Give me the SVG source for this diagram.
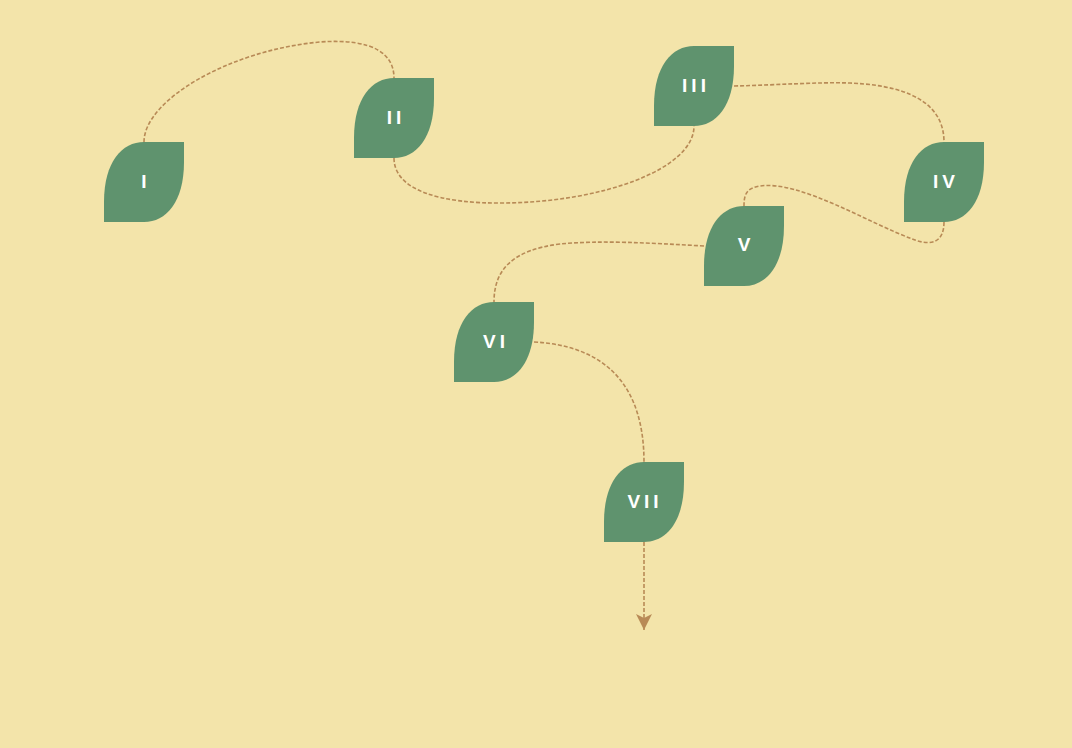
<svg xmlns="http://www.w3.org/2000/svg" width="1072" height="748" viewBox="0 0 1072 748">
<defs>
<style>
.leaf{fill:#5f936e}
.lbl{fill:#ffffff;font-family:"Liberation Sans",Arial,sans-serif;font-weight:bold;font-size:19px;text-anchor:middle;letter-spacing:4px}
.edge{fill:none;stroke:#b88a56;stroke-width:1.6;stroke-dasharray:4 2}
</style>
<path id="leafShape" d="M0,80 L0,60 C0,20 18,0 40,0 L80,0 L80,20 C80,60 62,80 40,80 Z"/>
<marker id="arr" viewBox="0 0 16 16" refX="16" refY="8" markerWidth="16" markerHeight="16" markerUnits="userSpaceOnUse" orient="auto">
<path d="M0,0 L16,8 L0,16 L4,8 Z" fill="#b88a56"/>
</marker>
</defs>
<rect width="1072" height="748" fill="#f3e4aa"/>
<g id="connectors">
<path class="edge" d="M144,142 C144,100 230,50 320,42 C375,38 394,55 394,78"/>
<path class="edge" d="M394,158 C394,190 440,204 505,203 C600,202 694,170 694,126"/>
<path class="edge" d="M734,86 C780,85 815,82 850,83 C920,86 944,110 944,142"/>
<path class="edge" d="M944,222 C944,242 932,246 915,240 C870,224 800,180 760,186 C746,188 744,195 744,206"/>
<path class="edge" d="M704,246 C650,243 600,240 560,244 C512,250 494,270 494,302"/>
<path class="edge" d="M534,342 C610,346 644,390 644,462"/>
<path class="edge" d="M644,542 L644,630" marker-end="url(#arr)"/>
</g>
<g id="node-I"><use href="#leafShape" class="leaf" x="104" y="142"/><text class="lbl" x="146" y="188">I</text></g>
<g id="node-II"><use href="#leafShape" class="leaf" x="354" y="78"/><text class="lbl" x="396" y="124">II</text></g>
<g id="node-III"><use href="#leafShape" class="leaf" x="654" y="46"/><text class="lbl" x="696" y="92">III</text></g>
<g id="node-IV"><use href="#leafShape" class="leaf" x="904" y="142"/><text class="lbl" x="946" y="188">IV</text></g>
<g id="node-V"><use href="#leafShape" class="leaf" x="704" y="206"/><text class="lbl" x="746" y="251">V</text></g>
<g id="node-VI"><use href="#leafShape" class="leaf" x="454" y="302"/><text class="lbl" x="496" y="348">VI</text></g>
<g id="node-VII"><use href="#leafShape" class="leaf" x="604" y="462"/><text class="lbl" x="645" y="508">VII</text></g>
</svg>
